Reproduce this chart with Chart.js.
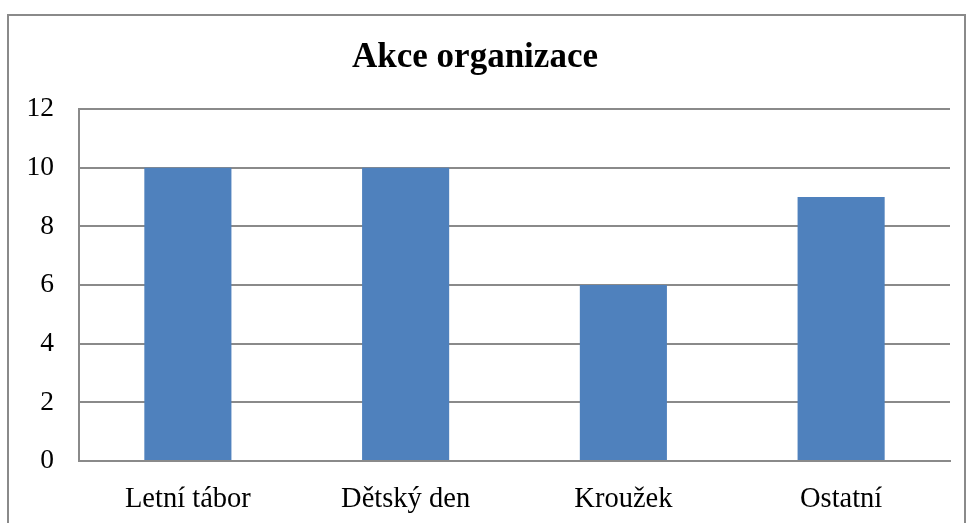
<!DOCTYPE html>
<html>
<head>
<meta charset="utf-8">
<script src="https://cdn.jsdelivr.net/npm/chart.js@4/dist/chart.umd.min.js"></script>
<style>
  html, body { margin: 0; padding: 0; background: #fff; overflow: hidden; }
  #frame {
    position: absolute; left: 7px; top: 14px;
    width: 955px; height: 600px;
    border: 2px solid #8a8a8a;
  }
  #wrap { position: absolute; left: 0; top: 0; width: 966px; height: 523px; }
</style>
</head>
<body>
<div id="frame"></div>
<div id="wrap"><canvas id="chart" width="966" height="523"></canvas></div>
<script>
const categories = ["Letní tábor", "Dětský den", "Kroužek", "Ostatní"];
const counts = [10, 10, 6, 9];
const yTicks = [0, 2, 4, 6, 8, 10, 12];

const FONT = "'Liberation Serif', 'Times New Roman', serif";
const GRID = "#8a8a8a";

const ctx = document.getElementById("chart").getContext("2d");

new Chart(ctx, {
  type: "bar",
  data: {
    labels: categories,
    datasets: [
      {
        label: "Akce",
        data: counts,
        backgroundColor: "#4F81BD",
        borderWidth: 0,
        categoryPercentage: 1,
        barPercentage: 0.4,
      },
    ],
  },
  options: {
    responsive: false,
    animation: false,
    layout: { padding: { left: 0, right: 16, top: 0, bottom: 0 } },
    plugins: {
      legend: { display: false },
      tooltip: { enabled: false },
      title: {
        display: true,
        text: "Akce organizace",
        color: "#000",
        font: { family: FONT, size: 35, weight: "bold", lineHeight: 1.2 },
        padding: { top: 37, bottom: 30 },
      },
    },
    scales: {
      x: {
        grid: { display: false, drawTicks: false },
        border: { display: true, color: GRID, width: 2 },
        ticks: {
          color: "#000",
          font: { family: FONT, size: 28.5 },
          padding: 21,
          maxRotation: 0,
        },
        afterFit(scale) { scale.height = 62; },
      },
      y: {
        min: 0,
        max: 12,
        afterBuildTicks(scale) { scale.ticks = yTicks.map((v) => ({ value: v })); },
        grid: { color: GRID, lineWidth: 2, drawTicks: false },
        border: { display: true, color: GRID, width: 2 },
        ticks: {
          color: "#000",
          font: { family: FONT, size: 27.5 },
          padding: 25,
        },
        afterFit(scale) { scale.width = 79; },
      },
    },
  },
});
</script>
</body>
</html>
